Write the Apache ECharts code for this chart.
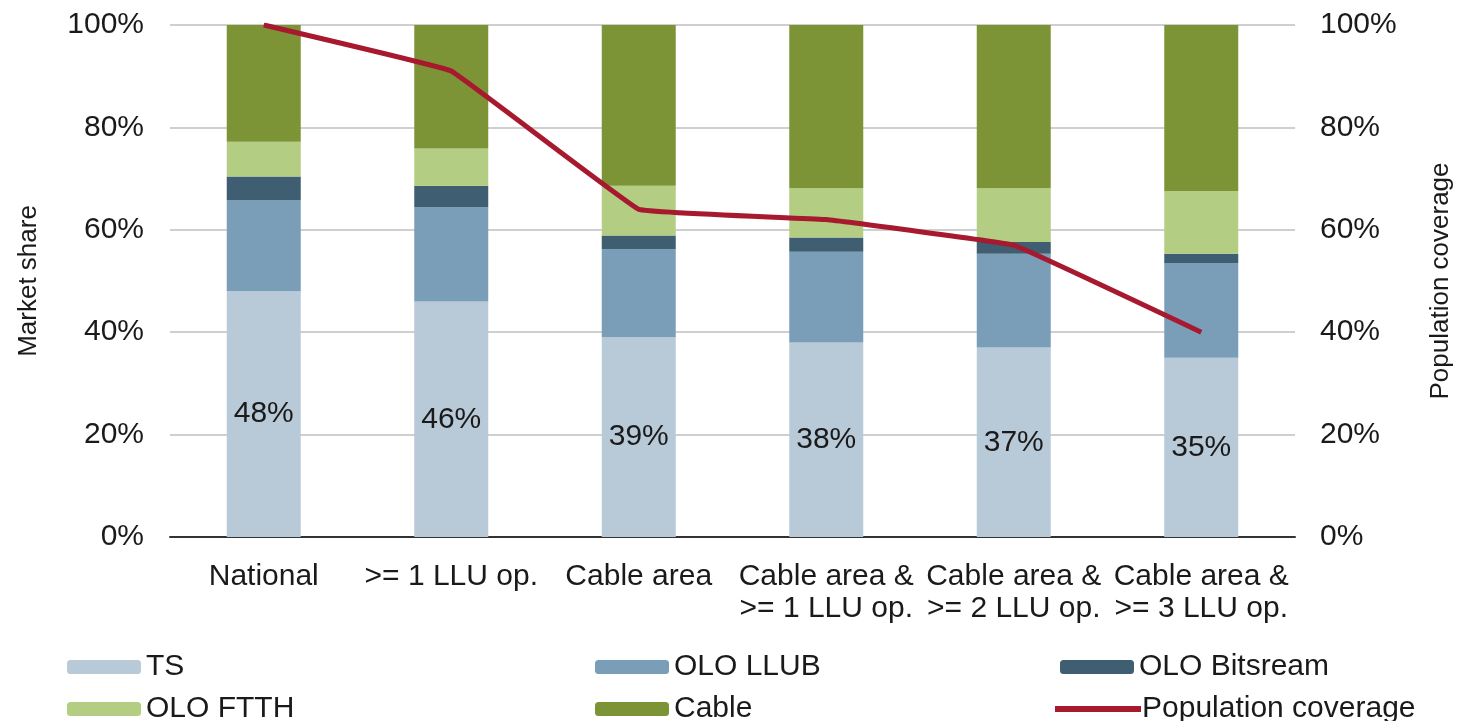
<!DOCTYPE html>
<html>
<head>
<meta charset="utf-8">
<script src="https://cdn.jsdelivr.net/npm/echarts@6/dist/echarts.min.js"></script>
<style>
    html, body { margin: 0; padding: 0; background: #ffffff; }
    #chart { width: 1462px; height: 721px; }
</style>
</head>
<body>
<div id="chart"></div>
<script>
    // categories along the x axis
    const categories = [
        'National',
        '>= 1 LLU op.',
        'Cable area',
        'Cable area &\n>= 1 LLU op.',
        'Cable area &\n>= 2 LLU op.',
        'Cable area &\n>= 3 LLU op.'
    ];

    // market share, % (stacked)
    const ts = [48, 46, 39, 38, 37, 35];
    const oloLlub = [17.8, 18.4, 17.2, 17.7, 18.3, 18.5];
    const oloBitstream = [4.6, 4.2, 2.7, 2.8, 2.3, 1.8];
    const oloFtth = [6.8, 7.3, 9.7, 9.6, 10.5, 12.3];
    const cable = [22.8, 24.1, 31.4, 31.9, 31.9, 32.4];

    // population coverage, %
    const coverage = [100, 91, 64, 62, 57, 40];

    const ticks = [0, 20, 40, 60, 80, 100];

    const FONT = 'Liberation Sans, Arial, sans-serif';
    const TEXT = '#1a1a1a';
    const FS = 30;

    const makeBar = (name, data, color, withLabel) => ({
        name: name,
        type: 'bar',
        stack: 'share',
        barWidth: 74,
        data: data,
        itemStyle: { color: color },
        label: withLabel ? {
            show: true,
            position: 'inside',
            formatter: (p) => Math.round(p.value) + '%',
            color: TEXT,
            fontFamily: FONT,
            fontSize: FS
        } : { show: false },
        emphasis: { disabled: true }
    });

    const legendItem = (name, left, top) => ({
        data: [name],
        left: left,
        top: top,
        itemWidth: 74,
        itemHeight: 14,
        itemGap: 0,
        textStyle: { fontFamily: FONT, fontSize: FS, color: TEXT, padding: [0, 0, 0, 0] }
    });

    const chart = echarts.init(document.getElementById('chart'));
    chart.setOption({
        animation: false,
        grid: { left: 170, right: 165, top: 25, bottom: 184 },
        legend: [
            legendItem('TS', 62, 647),
            legendItem('OLO LLUB', 590, 647),
            legendItem('OLO Bitsream', 1055, 647),
            legendItem('OLO FTTH', 62, 689),
            legendItem('Cable', 590, 689),
            {
                data: [{ name: 'Population coverage', icon: 'rect' }],
                left: 1050,
                top: 689,
                itemWidth: 86,
                itemHeight: 6,
                textStyle: { fontFamily: FONT, fontSize: FS, color: TEXT, padding: [0, 0, 0, -4] }
            }
        ],
        xAxis: {
            type: 'category',
            data: categories,
            axisTick: { show: false },
            axisLine: { lineStyle: { color: '#333333', width: 2 } },
            axisLabel: {
                interval: 0,
                hideOverlap: false,
                margin: 24,
                color: TEXT,
                fontFamily: FONT,
                fontSize: FS,
                lineHeight: 32
            }
        },
        yAxis: [
            {
                type: 'value',
                min: 0,
                max: 100,
                interval: 20,
                name: 'Market share',
                nameLocation: 'middle',
                nameRotate: 90,
                nameGap: 128,
                nameTextStyle: { fontFamily: FONT, fontSize: 26, color: TEXT },
                axisLine: { show: false },
                axisTick: { show: false },
                splitLine: { lineStyle: { color: '#cfcfcf', width: 2 } },
                axisLabel: {
                    margin: 26,
                    color: TEXT,
                    fontFamily: FONT,
                    fontSize: FS,
                    formatter: (v) => ticks.includes(v) ? v + '%' : ''
                }
            },
            {
                type: 'value',
                min: 0,
                max: 100,
                interval: 20,
                name: 'Population coverage',
                nameLocation: 'middle',
                nameRotate: 90,
                nameGap: 133,
                nameTextStyle: { fontFamily: FONT, fontSize: 26, color: TEXT },
                axisLine: { show: false },
                axisTick: { show: false },
                splitLine: { show: false },
                axisLabel: {
                    margin: 25,
                    color: TEXT,
                    fontFamily: FONT,
                    fontSize: FS,
                    formatter: (v) => ticks.includes(v) ? v + '%' : ''
                }
            }
        ],
        series: [
            makeBar('TS', ts, '#b8c9d8', true),
            makeBar('OLO LLUB', oloLlub, '#7a9eb7', false),
            makeBar('OLO Bitsream', oloBitstream, '#3f5e72', false),
            makeBar('OLO FTTH', oloFtth, '#b3ce82', false),
            makeBar('Cable', cable, '#7d9436', false),
            {
                name: 'Population coverage',
                type: 'line',
                yAxisIndex: 1,
                data: coverage,
                smooth: 0.05,
                symbol: 'none',
                z: 10,
                lineStyle: { color: '#a6192e', width: 5, join: 'round' },
                itemStyle: { color: '#a6192e' },
                emphasis: { disabled: true }
            }
        ]
    });
</script>
</body>
</html>
